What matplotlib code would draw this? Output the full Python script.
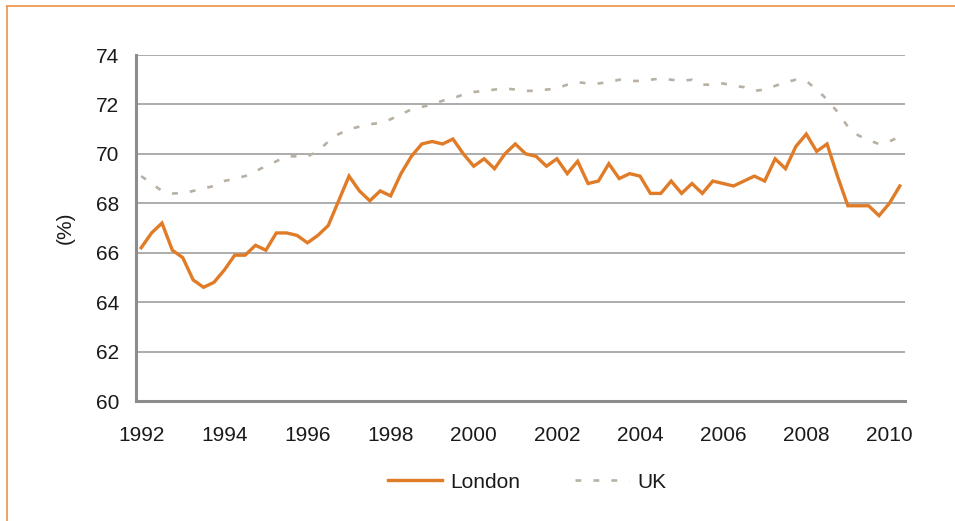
import matplotlib
matplotlib.use("Agg")
import matplotlib.pyplot as plt
import numpy as np
from matplotlib.lines import Line2D

# Quarterly rates, 1992 Q1 - 2010 Q2 (%)
london = [
    66.2, 66.8, 67.2, 66.1, 65.8, 64.9, 64.6, 64.8,
    65.3, 65.9, 65.9, 66.3, 66.1, 66.8, 66.8, 66.7,
    66.4, 66.7, 67.1, 68.1, 69.1, 68.5, 68.1, 68.5,
    68.3, 69.2, 69.9, 70.4, 70.5, 70.4, 70.6, 70.0,
    69.5, 69.8, 69.4, 70.0, 70.4, 70.0, 69.9, 69.5,
    69.8, 69.2, 69.7, 68.8, 68.9, 69.6, 69.0, 69.2,
    69.1, 68.4, 68.4, 68.9, 68.4, 68.8, 68.4, 68.9,
    68.8, 68.7, 68.9, 69.1, 68.9, 69.8, 69.4, 70.3,
    70.8, 70.1, 70.4, 69.1, 67.9, 67.9, 67.9, 67.5,
    68.0, 68.7,
]
uk = [
    69.1, 68.8, 68.5, 68.4, 68.4, 68.5, 68.6, 68.7,
    68.9, 69.0, 69.1, 69.3, 69.5, 69.7, 69.9, 69.9,
    69.9, 70.1, 70.5, 70.8, 71.0, 71.1, 71.2, 71.25,
    71.4, 71.6, 71.8, 71.9, 72.0, 72.15, 72.25, 72.4,
    72.5, 72.55, 72.6, 72.65, 72.6, 72.55, 72.55, 72.6,
    72.65, 72.8, 72.9, 72.85, 72.85, 72.9, 73.0, 72.95,
    72.95, 73.0, 73.05, 73.0, 72.95, 73.0, 72.8, 72.8,
    72.85, 72.75, 72.7, 72.55, 72.6, 72.75, 72.9, 73.0,
    72.95, 72.6, 72.2, 71.7, 71.1, 70.75, 70.55, 70.4,
    70.5, 70.7,
]
year_labels = ["1992", "1994", "1996", "1998", "2000",
               "2002", "2004", "2006", "2008", "2010"]

plt.rcParams["font.family"] = ["Liberation Sans", "DejaVu Sans"]
fs = 15
txt = "#1a1a1a"

fig = plt.figure(figsize=(9.55, 5.21), dpi=100)
ax = fig.add_axes([136 / 955, 1 - 401 / 521, 769 / 955, 346 / 521])

x = np.arange(len(london))
ax.plot(x, london, color="#E07B27", lw=2.4, label="London", solid_joinstyle="miter")
ax.plot(x, uk, color="#B9B0A5", lw=1.9, linestyle=(0, (2.2, 4.6)),
        dash_capstyle="butt", label="UK")

ax.set_xlim(-0.5, len(london) - 0.5)
ax.set_ylim(60, 74)
ax.set_yticks(np.arange(60, 75, 2))
ax.set_xticks(np.arange(0, len(london), 8))
ax.set_xticklabels(year_labels)

ax.grid(axis="y", color="#A6A6A6", lw=1.3)
ax.set_axisbelow(True)
for s in ["top", "right"]:
    ax.spines[s].set_visible(False)
for s in ["left", "bottom"]:
    ax.spines[s].set_color("#8C8C8C")
    ax.spines[s].set_linewidth(2.2)
ax.tick_params(axis="both", length=0, labelsize=fs, colors=txt)
ax.tick_params(axis="y", pad=12)
ax.tick_params(axis="x", pad=18)

fig.text(65 / 955, 1 - 228 / 521, "(%)", rotation=90, ha="center", va="center",
         fontsize=fs, color=txt)

fig.legend(loc="center", bbox_to_anchor=(527 / 955, 1 - 482 / 521), ncol=2,
           frameon=False, fontsize=fs, handlelength=2.6, handletextpad=0.4,
           columnspacing=2.6, labelcolor=txt)

# orange frame along top and left edge
fig.add_artist(Line2D([7 / 955, 7 / 955], [0, 1 - 6 / 521], color="#EE9A55", lw=1.3))
fig.add_artist(Line2D([7 / 955, 1], [1 - 6 / 521, 1 - 6 / 521], color="#EE9A55", lw=1.3))

fig.savefig("out.png", dpi=100)
